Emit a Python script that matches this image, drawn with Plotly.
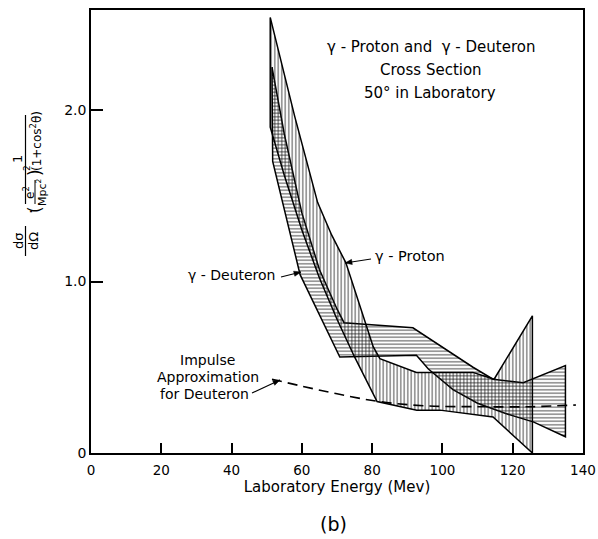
import math
import plotly.graph_objects as go

# ---------------- data ----------------
# gamma-Proton band (vertical hatching)
proton_upper_x = [51, 58, 64.5, 68.5, 72.5, 76.5, 80.3, 82.2, 92.6, 98.3, 108.7, 114.7, 125.6]
proton_upper_y = [2.54, 1.96, 1.46, 1.27, 1.11, 0.86, 0.62, 0.55, 0.47, 0.47, 0.47, 0.43, 0.80]
proton_lower_x = [51, 55, 60, 65, 70, 75, 81.4, 92.7, 99.3, 114.4, 125.6]
proton_lower_y = [1.90, 1.62, 1.30, 1.02, 0.78, 0.56, 0.30, 0.25, 0.25, 0.21, 0.0]

# gamma-Deuteron band (horizontal hatching)
deut_upper_x = [51.5, 55, 60, 65, 70, 72, 91.6, 98.3, 108.7, 114.4, 123, 135]
deut_upper_y = [2.25, 1.86, 1.40, 1.07, 0.84, 0.76, 0.73, 0.64, 0.50, 0.43, 0.41, 0.51]
deut_lower_x = [51.7, 59.5, 70.8, 92.6, 96, 103, 110, 118, 126, 135]
deut_lower_y = [1.70, 1.04, 0.56, 0.57, 0.49, 0.37, 0.29, 0.23, 0.18, 0.095]

# Impulse approximation for deuteron (dashed)
impulse_x = [51.5, 60, 70, 82, 95, 110, 125, 138]
impulse_y = [0.43, 0.39, 0.345, 0.30, 0.275, 0.27, 0.27, 0.28]

x_tickvals = [0, 20, 40, 60, 80, 100, 120, 140]
x_ticktext = ["0", "20", "40", "60", "80", "100", "120", "140"]
y_tickvals = [0, 1, 2]
y_ticktext = ["0", "1.0", "2.0"]

# ---------------- layout geometry ----------------
W, H = 598, 539
PLOT_L, PLOT_R, PLOT_T, PLOT_B = 91, 583, 10, 453      # page pixels
L, R, T, B = PLOT_L, W - PLOT_R, PLOT_T, H - PLOT_B
PW, PH = PLOT_R - PLOT_L, PLOT_B - PLOT_T
YTOP = PH / 171.5
FONT = "DejaVu Sans"


def P(px, py):
    """page pixel position -> paper coordinates (text/annotation placement only)"""
    return (px - PLOT_L) / PW, (PLOT_B - py) / PH


def polygon(ux, uy, lx, ly):
    xs = list(ux) + list(reversed(lx))
    ys = list(uy) + list(reversed(ly))
    return xs + [xs[0]], ys + [ys[0]]


fig = go.Figure()

dx, dy = polygon(deut_upper_x, deut_upper_y, deut_lower_x, deut_lower_y)
fig.add_trace(go.Scatter(
    x=dx, y=dy, mode="lines", fill="toself",
    fillcolor="rgba(0,0,0,0)",
    fillpattern=dict(shape="-", size=3.5, solidity=0.45, fgcolor="#1a1a1a",
                     bgcolor="rgba(0,0,0,0)"),
    line=dict(color="black", width=1.5), hoverinfo="skip", showlegend=False))

px_, py_ = polygon(proton_upper_x, proton_upper_y, proton_lower_x, proton_lower_y)
fig.add_trace(go.Scatter(
    x=px_, y=py_, mode="lines", fill="toself",
    fillcolor="rgba(0,0,0,0)",
    fillpattern=dict(shape="|", size=3.5, solidity=0.45, fgcolor="#1a1a1a",
                     bgcolor="rgba(0,0,0,0)"),
    line=dict(color="black", width=1.5), hoverinfo="skip", showlegend=False))

fig.add_trace(go.Scatter(
    x=impulse_x, y=impulse_y, mode="lines",
    line=dict(color="black", width=1.6, dash="10px,6px", shape="spline"),
    hoverinfo="skip", showlegend=False))

ann = []
shapes = []


def text(px, py, s, size=13, angle=0, xanchor="center", yanchor="middle"):
    x, y = P(px, py)
    ann.append(dict(x=x, y=y, xref="paper", yref="paper", text=s, showarrow=False,
                    textangle=angle, xanchor=xanchor, yanchor=yanchor,
                    font=dict(family=FONT, size=size, color="black")))


def seg(x0, y0, x1, y1, w=1.2):
    a, b = P(x0, y0)
    c, d = P(x1, y1)
    shapes.append(dict(type="line", xref="paper", yref="paper", x0=a, y0=b, x1=c, y1=d,
                       line=dict(color="black", width=w)))


def arrow(hx, hy, tx, ty, length=7, half=2.6):
    seg(tx, ty, hx, hy, 1.2)
    d = math.hypot(hx - tx, hy - ty)
    ux, uy = (hx - tx) / d, (hy - ty) / d
    nx, ny = -uy, ux
    pts = [(hx, hy),
           (hx - length * ux + half * nx, hy - length * uy + half * ny),
           (hx - length * ux - half * nx, hy - length * uy - half * ny)]
    pp = [P(a, b) for a, b in pts]
    path = "M {} {} L {} {} L {} {} Z".format(pp[0][0], pp[0][1], pp[1][0], pp[1][1],
                                              pp[2][0], pp[2][1])
    shapes.append(dict(type="path", xref="paper", yref="paper", path=path,
                       fillcolor="black", line=dict(color="black", width=0.5)))


# title block
text(431, 47, "γ - Proton and  γ - Deuteron", 15)
text(431, 70, "Cross Section", 15)
text(430, 93, "50° in Laboratory", 15)

# band labels
text(373, 256, "γ - Proton", 14.5, xanchor="left")
arrow(345, 263, 371, 259)
text(278, 275, "γ - Deuteron", 14, xanchor="right")
arrow(301, 272, 281, 277)

text(207, 360, "Impulse", 14)
text(208, 377, "Approximation", 14)
text(204, 394, "for Deuteron", 14)
arrow(280, 380, 252, 393)

text(333, 524, "(b)", 19)

# y-axis label (rotated compound fraction)
text(18, 241, "dσ", 13, -90)
text(33, 241, "dΩ", 13, -90)
text(31, 212, "·", 16, -90)
text(17, 159, "1", 13, -90)
text(29, 193, "e<sup>2</sup>", 12, -90)
text(41, 192, "Mpc<sup>2</sup>", 11, -90)
text(35, 210, "(", 17, -90)
text(35, 173, ")", 17, -90)
text(27, 168, "2", 9, -90)
text(36, 141, "(1+cos<sup>2</sup>θ)", 12, -90)

seg(25.5, 226, 25.5, 256)
seg(25.5, 115, 25.5, 204)
seg(35, 180, 35, 204, 1)

fig.update_layout(
    width=W, height=H, autosize=False,
    margin=dict(l=L, r=R, t=T, b=B, pad=0),
    paper_bgcolor="white", plot_bgcolor="white",
    font=dict(family=FONT, size=13, color="black"),
    annotations=ann, shapes=shapes,
    xaxis=dict(range=[0, 140], tickvals=x_tickvals, ticktext=x_ticktext,
               ticks="inside", ticklen=10, tickwidth=1.5, tickcolor="black",
               showline=True, linewidth=1.5, linecolor="black", mirror=True,
               showgrid=False, zeroline=False, ticklabelstandoff=4, automargin=False,
               tickfont=dict(family=FONT, size=13.5),
               title=dict(text="Laboratory Energy (Mev)", font=dict(family=FONT, size=15),
                          standoff=4)),
    yaxis=dict(range=[0, YTOP], tickvals=y_tickvals, ticktext=y_ticktext,
               ticks="inside", ticklen=12, tickwidth=1.5, tickcolor="black",
               showline=True, linewidth=1.5, linecolor="black", mirror=True,
               showgrid=False, zeroline=False, automargin=False,
               tickfont=dict(family=FONT, size=14)),
)

fig.write_html(
    "out.html",
    config={"displayModeBar": False, "responsive": False},
    post_script="document.body.style.margin='0';document.body.style.overflow='hidden';",
)
